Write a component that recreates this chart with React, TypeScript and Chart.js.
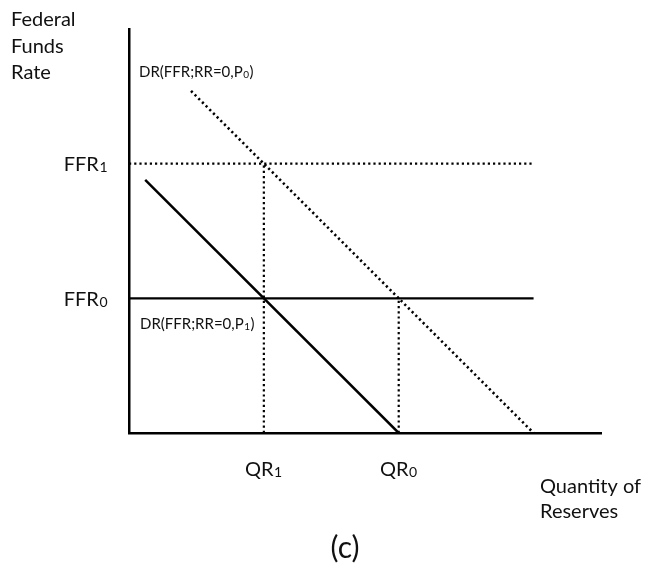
import React, { useEffect, useRef } from "react";
import { Chart, registerables } from "chart.js";

Chart.register(...registerables);

// Conceptual units
const ffrLevels = [5, 10];
const ffrSubs = ["0", "1"];
const qrLevels = [5, 10];
const qrSubs = ["1", "0"];

const demandP1 = [
  { x: 0.6, y: 9.4 },
  { x: 10, y: 0 },
];
const demandP0 = [
  { x: 2.3, y: 12.7 },
  { x: 15, y: 0 },
];
const ffr0Line = [
  { x: 0, y: 5 },
  { x: 15, y: 5 },
];
const ffr1Line = [
  { x: 0, y: 10 },
  { x: 15, y: 10 },
];
const qr1Line = [
  { x: 5, y: 0 },
  { x: 5, y: 10 },
];
const qr0Line = [
  { x: 10, y: 0 },
  { x: 10, y: 5 },
];

const FONT = "Lato, 'Open Sans', sans-serif";

// draws main + subscript + tail; align: left | right | center; y = text middle
function drawSub(
  ctx: CanvasRenderingContext2D,
  x: number,
  y: number,
  main: string,
  sub: string,
  tail: string,
  size: number,
  align: "left" | "right" | "center"
) {
  const subSize = Math.round(size * 0.68);
  ctx.textAlign = "left";
  ctx.textBaseline = "alphabetic";
  ctx.font = `${size}px ${FONT}`;
  const wMain = ctx.measureText(main).width;
  const wTail = ctx.measureText(tail).width;
  ctx.font = `${subSize}px ${FONT}`;
  const wSub = ctx.measureText(sub).width;
  const total = wMain + wSub + 1 + wTail;
  let x0 = x;
  if (align === "right") x0 = x - total;
  if (align === "center") x0 = x - total / 2;
  const base = y + size * 0.36;
  ctx.font = `${size}px ${FONT}`;
  ctx.fillText(main, x0, base);
  ctx.font = `${subSize}px ${FONT}`;
  ctx.fillText(sub, x0 + wMain + 0.5, base + size * 0.06);
  ctx.font = `${size}px ${FONT}`;
  ctx.fillText(tail, x0 + wMain + wSub + 1, base);
}

const textPlugin = {
  id: "textLabels",
  afterDraw(chart: any) {
    const ctx = chart.ctx;
    const xs = chart.scales.x;
    const ys = chart.scales.y;
    ctx.save();
    ctx.fillStyle = "#111";
    // tick labels placed through the scales
    ffrLevels.forEach((v, i) => {
      drawSub(ctx, xs.left - 21, ys.getPixelForValue(v), "FFR", ffrSubs[i], "", 20, "right");
    });
    qrLevels.forEach((v, i) => {
      drawSub(ctx, xs.getPixelForValue(v), ys.bottom + 36, "QR", qrSubs[i], "", 20, "center");
    });
    ctx.textBaseline = "middle";
    ctx.textAlign = "left";
    ctx.font = `20px ${FONT}`;
    ["Federal", "Funds", "Rate"].forEach((t, i) => ctx.fillText(t, 11, 20 + i * 26.5));
    ["Quantity of", "Reserves"].forEach((t, i) => ctx.fillText(t, 540, 487 + i * 25));
    ctx.font = `30px ${FONT}`;
    ctx.textAlign = "center";
    ctx.fillText("(c)", 345, 548);
    drawSub(ctx, xs.left + 10, 72, "DR(FFR;RR=0,P", "0", ")", 15, "left");
    drawSub(ctx, xs.left + 11, ys.getPixelForValue(5) + 25, "DR(FFR;RR=0,P", "1", ")", 15, "left");
    ctx.restore();
  },
};

function lineDs(data: any[], width: number, dashed: boolean) {
  return {
    data,
    showLine: true,
    borderColor: "#000",
    borderWidth: width,
    borderDash: dashed ? [2.2, 3] : [],
    pointRadius: 0,
    fill: false,
    tension: 0,
  };
}

export default function App() {
  const ref = useRef<HTMLCanvasElement>(null);
  useEffect(() => {
    const chart = new Chart(ref.current!, {
      type: "scatter",
      data: {
        datasets: [
          lineDs(demandP1, 2.5, false),
          lineDs(demandP0, 2.6, true),
          lineDs(ffr0Line, 2.2, false),
          lineDs(ffr1Line, 2.2, true),
          lineDs(qr1Line, 2.2, true),
          lineDs(qr0Line, 2.2, true),
        ],
      },
      options: {
        responsive: false,
        animation: false,
        layout: { padding: { left: 0, top: 29, right: 49, bottom: 0 } },
        plugins: { legend: { display: false }, tooltip: { enabled: false } },
        scales: {
          x: {
            type: "linear",
            min: 0,
            max: 17.5,
            grid: { display: false, drawTicks: false },
            border: { display: true, color: "#000", width: 2.5 },
            afterBuildTicks: (s: any) => {
              s.ticks = qrLevels.map((v) => ({ value: v }));
            },
            afterFit: (s: any) => {
              s.height = 139;
            },
            ticks: { display: false },
          },
          y: {
            type: "linear",
            min: 0,
            max: 15,
            grid: { display: false, drawTicks: false },
            border: { display: true, color: "#000", width: 2.5 },
            afterBuildTicks: (s: any) => {
              s.ticks = ffrLevels.map((v) => ({ value: v }));
            },
            afterFit: (s: any) => {
              s.width = 129;
            },
            ticks: { display: false },
          },
        },
      },
      plugins: [textPlugin],
    } as any);
    return () => chart.destroy();
  }, []);
  return (
    <div style={{ position: "absolute", left: 0, top: 0, width: 650, height: 572, background: "#fff" }}>
      <canvas ref={ref} width={650} height={572} />
    </div>
  );
}
